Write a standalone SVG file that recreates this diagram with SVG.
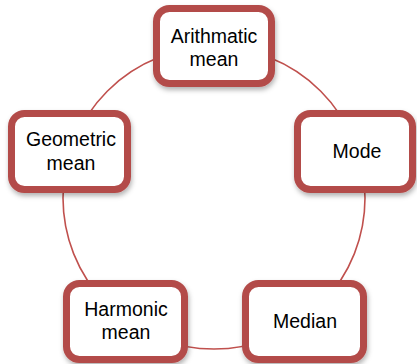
<svg xmlns="http://www.w3.org/2000/svg" width="417" height="364" viewBox="0 0 417 364">
<style>
.box{fill:#ffffff;stroke:#b34b49;stroke-width:7;filter:url(#sh)}
.t{font-family:"Liberation Sans",Arial,sans-serif;font-size:19.5px;fill:#000;text-anchor:middle}
.ring{fill:none;stroke:#c0504d;stroke-width:1.6}
</style>
<defs>
<filter id="sh" x="-20%" y="-20%" width="140%" height="150%">
<feDropShadow dx="1" dy="3" stdDeviation="2.5" flood-color="#000" flood-opacity="0.3"/>
</filter>
</defs>
<rect width="417" height="364" fill="#ffffff"/>
<g id="connectors">
<circle class="ring" cx="214" cy="198" r="151"/>
</g>
<g id="arithmatic">
<rect class="box" x="156.5" y="8.5" width="115" height="75" rx="13"/>
<text class="t" x="214" y="43">Arithmatic</text>
<text class="t" x="214" y="66">mean</text>
</g>
<g id="mode">
<rect class="box" x="297.5" y="113.5" width="115" height="76" rx="13"/>
<text class="t" x="357" y="158">Mode</text>
</g>
<g id="geometric">
<rect class="box" x="11.5" y="113.5" width="116" height="76" rx="13"/>
<text class="t" x="71" y="146">Geometric</text>
<text class="t" x="71" y="170">mean</text>
</g>
<g id="harmonic">
<rect class="box" x="66.5" y="283.5" width="118" height="76" rx="13"/>
<text class="t" x="126" y="316">Harmonic</text>
<text class="t" x="126" y="339">mean</text>
</g>
<g id="median">
<rect class="box" x="245.5" y="283.5" width="118" height="76" rx="13"/>
<text class="t" x="305" y="328">Median</text>
</g>
</svg>
